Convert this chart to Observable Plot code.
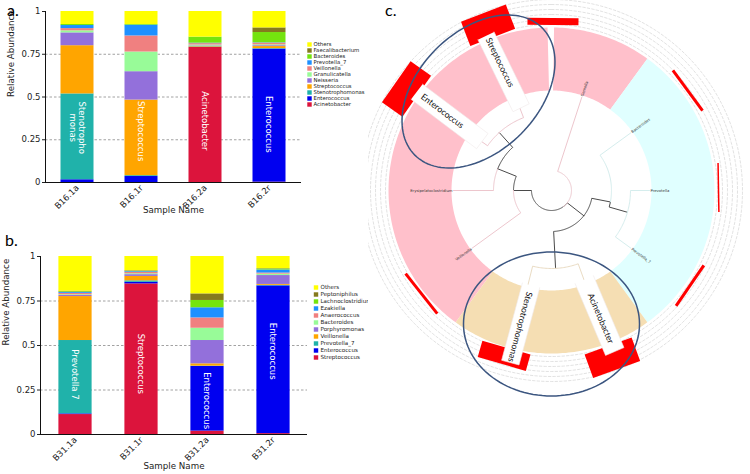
<!DOCTYPE html>
<html><head><meta charset="utf-8">
<script src="https://cdn.jsdelivr.net/npm/d3@7"></script>
<script src="https://cdn.jsdelivr.net/npm/@observablehq/plot@0.6"></script>
<style>
body{margin:0;background:#fff}
#fig{position:relative;width:750px;height:474px;overflow:hidden;background:#fff;font-family:"DejaVu Sans",sans-serif}
.plab{position:absolute;font-family:Lato,"Open Sans",sans-serif;font-size:16px;line-height:1;color:#000}
</style></head><body><div id="fig"></div>
<script>
// ---------------- Panel a data ----------------
const samplesA = ["B16.1a","B16.1r","B16.2a","B16.2r"];
const generaA = ["Acinetobacter","Enterococcus","Stenotrophomonas","Streptococcus","Neisseria","Granulicatella","Veillonella","Prevotella_7","Bacteroides","Faecalibacterium","Others"];
const abundA = [
  [0.000, 0.016, 0.502, 0.282, 0.075, 0.012, 0.013, 0.018, 0.006, 0.000, 0.076],
  [0.000, 0.035, 0.005, 0.442, 0.166, 0.115, 0.094, 0.063, 0.004, 0.000, 0.076],
  [0.790, 0.000, 0.003, 0.003, 0.003, 0.005, 0.008, 0.003, 0.035, 0.000, 0.150],
  [0.002, 0.778, 0.003, 0.012, 0.005, 0.005, 0.010, 0.002, 0.060, 0.027, 0.096]
];
const labelSamplesA = ["B16.1a","B16.1r","B16.2a","B16.2r"];
const labelTextsA = ["Stenotropho\nmonas","Streptococcus","Acinetobacter","Enterococcus"];
const labelValuesA = [0.32, 0.30, 0.36, 0.34];

// ---------------- Panel b data ----------------
const samplesB = ["B31.1a","B31.1r","B31.2a","B31.2r"];
const generaB = ["Streptococcus","Enterococcus","Prevotella_7","Veillonella","Porphyromonas","Bacteroides","Anaerococcus","Ezakiella","Lachnoclostridium","Peptoniphilus","Others"];
const abundB = [
  [0.112, 0.004, 0.412, 0.247, 0.006, 0.004, 0.008, 0.005, 0.004, 0.003, 0.195],
  [0.846, 0.009, 0.008, 0.025, 0.010, 0.005, 0.008, 0.004, 0.002, 0.003, 0.080],
  [0.019, 0.363, 0.002, 0.013, 0.131, 0.069, 0.058, 0.057, 0.041, 0.037, 0.210],
  [0.005, 0.830, 0.003, 0.005, 0.050, 0.008, 0.006, 0.017, 0.006, 0.002, 0.068]
];
const labelSamplesB = ["B31.1a","B31.1r","B31.2a","B31.2r"];
const labelTextsB = ["Prevotella 7","Streptococcus","Enterococcus","Enterococcus"];
const labelValuesB = [0.337, 0.397, 0.19, 0.468];

const yTicks = [0, 0.25, 0.5, 0.75, 1];

// ---------------- Panel c data (angles in degrees clockwise from top) ----------------
const leafNames  = ["Gemella","Bacteroides","Prevotella","Prevotella_7","Acinetobacter","Stenotrophomonas","Veillonella","Erysipelatoclostridium","Enterococcus","Streptococcus"];
const leafAngles = [18, 54, 90, 126, 160, 194, 234, 270, 305, 339];
const leafParent = ["root","nB","nB2","nB2","nP","nP","n2","n3","n4","n4"];
const leafClade  = ["Firmicutes","Bacteroidetes","Bacteroidetes","Bacteroidetes","Proteobacteria","Proteobacteria","Firmicutes","Firmicutes","Firmicutes","Firmicutes"];
const leafRadius = 98;

const nodeIds     = ["root","n1","nP","nB","nB2","n2","n3","n4"];
const nodeParent  = [null,"root","n1","n1","nB","root","n2","n3"];
const nodeAngles  = [144, 128, 177, 101, 106, 270, 292, 318];
const nodeRadius  = [20, 41, 78, 60, 79, 38, 58, 78];

const cladeNames = ["Firmicutes","Firmicutes","Bacteroidetes","Proteobacteria"];
const cladeStart = [216, 360.9, 36, 144];
const cladeEnd   = [358.6, 396, 144, 216];
const ringInner = 100, ringOuter = 163;

const guideRadii = [166, 171, 176, 181, 186, 191];

// outer red bars: angle, radius of centre, tangential length, radial depth
const barAngle  = [0.5, 53.7, 89, 124.5, 160, 196, 231.6, 305, 339];
const barRadius = [169, 169, 167, 168, 178, 172, 166, 177, 177];
const barLength = [51, 50, 49, 49, 50, 50, 51, 50, 48];
const barDepth  = [7, 3, 1.5, 3, 25, 17, 3, 25, 26];

// highlighted genus boxes
const boxNames  = ["Streptococcus","Enterococcus","Stenotrophomonas","Acinetobacter"];
const boxAngle  = [338, 306, 193, 159];
const boxRadius = [128, 126, 137, 134];
const boxLength = [80, 82, 80, 78];
const boxWidth  = [18, 19, 18, 20];
const boxTilt   = [64, 37, 105, 67];
const boxTextR  = [138, 135, 140, 137];

// ellipses (centre relative to tree centre)
const ellCx = [-73, 0], ellCy = [-99, 133.5], ellRx = [90, 88], ellRy = [60, 72], ellRot = [-45, 0];

// ---------------- styles ----------------
const palette = ["#DC143C","#0000F0","#20B2AA","#FFA500","#9370DB","#98FB98","#F08080","#1E90FF","#74E40E","#857A1E","#FFFF00"];
const cladeFill = {Firmicutes:"#FFC0CB", Bacteroidetes:"#E0FFFF", Proteobacteria:"#F5DEB3"};
const cladeLine = {Firmicutes:"#edc6cd", Bacteroidetes:"#d5eded", Proteobacteria:"#eadcc4"};

const fig = document.getElementById("fig");
function place(el, left, top) {
  el.style.position = "absolute"; el.style.left = left + "px"; el.style.top = top + "px";
  fig.appendChild(el);
}

function barPanel(samples, genera, abund, lblS, lblT, lblV, g) {
  const rows = samples.flatMap((s, i) => genera.map((gn, j) => ({sample: s, genus: gn, value: abund[i][j]})));
  return Plot.plot({
    width: g.width, height: g.height,
    marginLeft: g.ml, marginRight: g.mr, marginTop: g.mt, marginBottom: g.mb,
    style: {fontFamily: "DejaVu Sans", fontSize: "8.5px", background: "transparent", overflow: "visible", color: "#222"},
    x: {domain: samples, padding: 0, axis: null},
    y: {domain: [0, 1], axis: null},
    color: {domain: genera, range: palette},
    marks: [
      Plot.ruleY([0.25, 0.5, 0.75], {stroke: "#8a8a8a", strokeDasharray: "2.5,2", strokeWidth: 0.8}),
      Plot.barY(rows, {x: "sample", y: "value", fill: "genus", order: genera, insetLeft: g.inset, insetRight: g.inset}),
      Plot.text(lblT, {x: (d, i) => lblS[i], y: (d, i) => lblV[i], text: d => d, rotate: 90, fill: "white", fontSize: 8.5, lineHeight: 1.15}),
      Plot.ruleY([0], {stroke: "#111", strokeWidth: 1}),
      Plot.frame({anchor: "left", stroke: "#111"}),
      Plot.axisY({ticks: yTicks, tickFormat: d => String(d), tickSize: 3, tickPadding: 2, label: null}),
      Plot.axisX({tickRotate: -45, tickSize: 0, tickPadding: 4, label: null}),
      Plot.text(["Relative Abundance"], {frameAnchor: "left", dx: -34, rotate: -90, text: d => d, fontSize: 8.7}),
      Plot.text(["Sample Name"], {frameAnchor: "bottom", dy: g.nameDy, text: d => d, fontSize: 8.7})
    ]
  });
}

function legendPanel(items, genera, y0, step, fs, sqx, txx) {
  return Plot.plot({
    width: 60, height: y0 * 2 + step * (items.length - 1), margin: 0,
    style: {fontFamily: "DejaVu Sans", background: "transparent", overflow: "visible"},
    x: {axis: null, domain: [0, 1]},
    y: {type: "point", domain: items, range: [y0, y0 + step * (items.length - 1)], padding: 0, axis: null},
    color: {domain: genera, range: palette},
    marks: [
      Plot.dot(items, {y: d => d, fill: d => d, symbol: "square", r: 2.5, frameAnchor: "left", dx: sqx, stroke: "none"}),
      Plot.text(items, {y: d => d, text: d => d, frameAnchor: "left", dx: txx, textAnchor: "start", fontSize: fs, fill: "#222"})
    ]
  });
}

// panel a
place(barPanel(samplesA, generaA, abundA, labelSamplesA, labelTextsA, labelValuesA,
  {width: 302, height: 218, ml: 45, mr: 1, mt: 11, mb: 36, inset: 15.5, nameDy: 30}), 0, 0);
place(legendPanel(generaA.slice().reverse(), generaA, 5.3, 6.9, 5.4, 5, 9), 304, 34);

// panel b
place(barPanel(samplesB, generaB, abundB, labelSamplesB, labelTextsB, labelValuesB,
  {width: 308, height: 244, ml: 40, mr: 1, mt: 26, mb: 40, inset: 16.4, nameDy: 34}), 0, 230);
place(legendPanel(generaB.slice().reverse(), generaB, 5.7, 7.1, 5.6, 6.5, 11), 309, 281);

// ---------------- panel c ----------------
const rad = a => a * Math.PI / 180;
const P = (a, r) => [r * Math.sin(rad(a)), -r * Math.cos(rad(a))];
function arc(a0, a1, r, step = 1) {
  const n = Math.max(1, Math.ceil(Math.abs(a1 - a0) / step));
  return d3.range(n + 1).map(i => P(a0 + (a1 - a0) * i / n, r));
}
const ringRows = cladeNames.flatMap((c, i) => {
  const pts = [...arc(cladeStart[i], cladeEnd[i], ringOuter), ...arc(cladeEnd[i], cladeStart[i], ringInner)];
  return pts.map(([x, y]) => ({id: "s" + i, x, y, fill: cladeFill[c]}));
});
const guideRows = guideRadii.flatMap((r, i) => arc(0, 360, r, 1).map(([x, y]) => ({id: "g" + i, x, y})));

const allNodes = [
  ...nodeIds.map((id, i) => ({id, parent: nodeParent[i], a: nodeAngles[i], r: nodeRadius[i], color: "#4a4a4a", w: 1})),
  ...leafNames.map((id, i) => ({id, parent: leafParent[i], a: leafAngles[i], r: leafRadius, color: cladeLine[leafClade[i]], w: 0.8}))
];
const byId = new Map(allNodes.map(d => [d.id, d]));
const treeRows = allNodes.filter(d => d.parent).flatMap(d => {
  const p = byId.get(d.parent);
  const diff = ((d.a - p.a + 540) % 360) - 180;
  const pts = [...arc(p.a, p.a + diff, p.r), P(d.a, d.r)];
  return pts.map(([x, y]) => ({id: d.id, x, y, stroke: d.color, w: d.w}));
});
function rectPts(a, rc, len, depth, tilt) {
  const [cx, cy] = P(a, rc);
  const t = tilt === undefined ? rad(a) : rad(tilt);
  const ux = Math.cos(t), uy = Math.sin(t);
  const vx = -uy, vy = ux;
  return [[-1,-1],[1,-1],[1,1],[-1,1]].map(([s, q]) => [cx + s * ux * len / 2 + q * vx * depth / 2, cy + s * uy * len / 2 + q * vy * depth / 2]);
}
const barRows = barAngle.flatMap((a, i) => rectPts(a, barRadius[i], barLength[i], barDepth[i]).map(([x, y]) => ({id: "b" + i, x, y})));
const boxRows = boxNames.flatMap((nm, i) => rectPts(boxAngle[i], boxRadius[i], boxLength[i], boxWidth[i], boxTilt[i]).map(([x, y]) => ({id: nm, x, y})));
const boxLabels = boxNames.map((nm, i) => { const [x, y] = P(boxAngle[i], boxTextR[i]); return {nm, x, y, rot: boxTilt[i]}; });
const smallLeaves = leafNames.map((nm, i) => ({nm, a: leafAngles[i]})).filter(d => !boxNames.includes(d.nm))
  .map(d => { const [x, y] = P(d.a, 99); return {nm: d.nm, x, y, a: d.a, rot: (d.a % 180) - 90}; });
const ellRows = ellCx.flatMap((cx, i) => d3.range(0, 361, 3).map(t => {
  const ct = Math.cos(rad(t)), st = Math.sin(rad(t)), cf = Math.cos(rad(ellRot[i])), sf = Math.sin(rad(ellRot[i]));
  return {id: "e" + i, x: cx + ellRx[i] * ct * cf - ellRy[i] * st * sf, y: ellCy[i] + ellRx[i] * ct * sf + ellRy[i] * st * cf};
}));

const plotC = Plot.plot({
  width: 382, height: 474, margin: 0,
  style: {background: "#fff", overflow: "hidden", fontFamily: "Lato"},
  x: {domain: [-183, 199], range: [0, 382], axis: null},
  y: {domain: [-190, 284], range: [0, 474], axis: null},
  color: {type: "identity"},
  marks: [
    Plot.line(guideRows, {x: "x", y: "y", z: "id", stroke: "#cfcfcf", strokeWidth: 0.6, strokeDasharray: "2.5,2"}),
    Plot.line(ringRows, {x: "x", y: "y", z: "id", fill: "fill", stroke: "none"}),
    Plot.line(treeRows, {x: "x", y: "y", z: "id", stroke: "stroke", strokeWidth: 1}),
    Plot.line(barRows, {x: "x", y: "y", z: "id", fill: "#ff0000", stroke: "none"}),
    Plot.line(boxRows, {x: "x", y: "y", z: "id", fill: "#fff", stroke: "#f0eaea", strokeWidth: 0.6}),
    Plot.text(boxLabels, {x: "x", y: "y", text: "nm", rotate: "rot", fontSize: 8.7, fill: "#111", fontFamily: "Lato"}),
    Plot.text(smallLeaves.filter(d => d.a < 180), {x: "x", y: "y", text: "nm", rotate: "rot", textAnchor: "start", fontSize: 3.8, fill: "#333", fontFamily: "DejaVu Sans"}),
    Plot.text(smallLeaves.filter(d => d.a >= 180), {x: "x", y: "y", text: "nm", rotate: "rot", textAnchor: "end", fontSize: 3.8, fill: "#333", fontFamily: "DejaVu Sans"}),
    Plot.line(ellRows, {x: "x", y: "y", z: "id", stroke: "#3c5680", strokeWidth: 1.5})
  ]
});
place(plotC, 368, 0);

// panel letters
[["a.", 7, 2], ["b.", 5, 232], ["c.", 385, 2]].forEach(([t, l, tp]) => {
  const d = document.createElement("div"); d.className = "plab"; d.textContent = t; place(d, l, tp);
});
</script></body></html>
